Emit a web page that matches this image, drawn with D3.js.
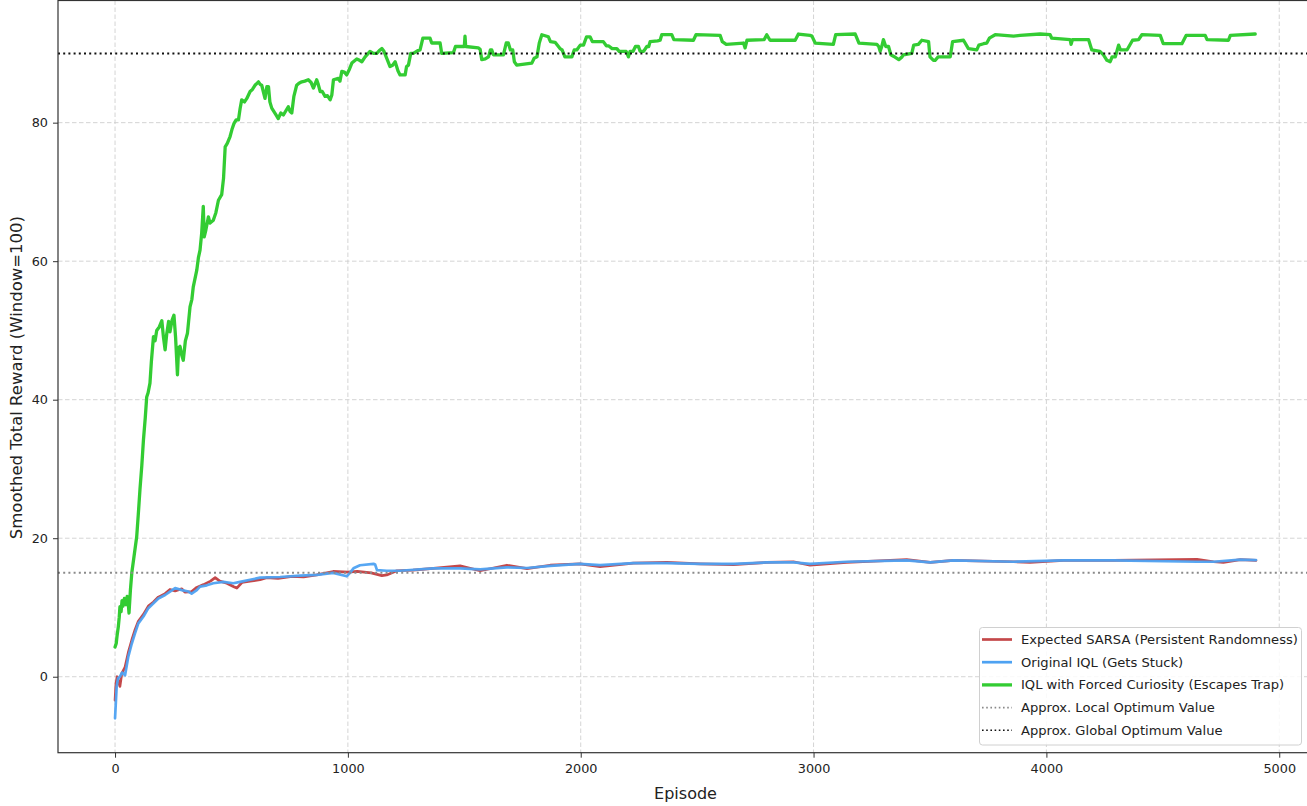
<!DOCTYPE html>
<html>
<head>
<meta charset="utf-8">
<script src="https://cdn.jsdelivr.net/npm/d3@7"></script>
<style>
  html, body { margin: 0; padding: 0; background: #fff; }
  svg { display: block; font-family: "DejaVu Sans", sans-serif; }
</style>
</head>
<body>
<svg id="chart" width="1307" height="806"></svg>
<script>
// Smoothed reward curves, [episode, reward]
const sarsaSeries = [
  [0,-3.4],[4,-1.0],[9,0.0],[13,-0.5],[21,-1.4],[29,0.5],[43,1.4],[57,3.5],[72,5.3],[86,6.8],
  [100,8.0],[122,9.0],[143,10.2],[165,10.8],[186,11.5],[215,12.0],[236,12.6],[258,12.4],[287,12.7],
  [300,12.2],[329,12.3],[351,12.9],[380,13.3],[410,13.8],[430,14.3],[450,13.8],[480,13.5],[510,13.0],
  [523,12.8],[545,13.6],[580,13.8],[623,14.0],[651,14.3],[700,14.2],[760,14.5],[810,14.4],[866,14.7],
  [937,15.2],[1000,15.1],[1040,15.2],[1100,15.0],[1146,14.6],[1167,14.7],[1210,15.3],[1280,15.4],
  [1367,15.65],[1482,16.0],[1568,15.3],[1683,16.1],[1769,15.6],[1869,16.1],[1997,16.3],[2083,15.9],
  [2226,16.4],[2370,16.5],[2513,16.3],[2656,16.2],[2799,16.5],[2914,16.6],[2985,16.1],[3142,16.5],
  [3400,16.9],[3501,16.5],[3601,16.8],[3859,16.6],[3930,16.5],[4073,16.8],[4288,16.8],[4647,16.95],
  [4718,16.6],[4760,16.5],[4833,16.9],[4900,16.8]
];

const iqlSeries = [
  [0,-6.0],[7,-1.4],[13,-0.2],[21,0.0],[30,0.6],[43,0.2],[57,2.9],[72,4.8],[86,6.3],[100,7.7],
  [122,8.7],[143,9.9],[165,10.6],[186,11.3],[215,11.8],[236,12.3],[258,12.8],[287,12.5],[315,12.3],
  [329,12.0],[351,12.5],[365,13.0],[394,13.2],[422,13.5],[465,13.7],[508,13.5],[537,13.7],[580,14.0],
  [623,14.3],[709,14.4],[795,14.6],[866,14.7],[937,15.0],[995,14.5],[1009,15.0],[1024,15.65],
  [1052,16.1],[1110,16.3],[1117,16.2],[1125,15.4],[1167,15.3],[1224,15.3],[1367,15.65],[1482,15.65],
  [1568,15.5],[1683,15.8],[1769,15.7],[1869,16.0],[1997,16.3],[2083,16.1],[2226,16.4],[2370,16.4],
  [2513,16.3],[2656,16.3],[2799,16.5],[2914,16.5],[2985,16.3],[3142,16.6],[3400,16.8],[3501,16.5],
  [3601,16.8],[3859,16.6],[4073,16.8],[4288,16.8],[4647,16.6],[4718,16.6],[4833,16.9],[4900,16.85]
];

const curiositySeries = [
  [0,4.3],[5,4.8],[9,6.0],[14,7.2],[18,8.6],[21,10.1],[26,9.4],[30,11.0],[34,10.2],[40,11.3],[47,10.4],
  [52,11.6],[56,10.9],[60,9.2],[66,12.5],[72,15.0],[80,17.0],[93,20.2],[100,23.5],[107,27.0],[115,30.5],
  [122,34.2],[130,37.5],[136,40.4],[142,41.0],[150,42.4],[156,45.5],[165,49.1],[172,48.5],[179,50.0],
  [190,50.5],[201,51.4],[208,49.0],[215,47.2],[222,49.5],[230,51.3],[236,49.8],[245,51.5],[253,52.2],
  [260,49.0],[268,43.6],[273,47.5],[279,47.7],[286,46.5],[293,45.7],[302,48.5],[311,49.6],[322,53.4],
  [330,54.5],[336,56.3],[351,58.7],[358,60.5],[365,61.6],[372,64.0],[379,67.9],[383,63.5],[390,64.5],
  [401,66.4],[408,65.5],[422,65.9],[433,67.0],[444,68.8],[458,69.6],[466,72.0],[473,76.5],[482,77.0],
  [494,78.0],[502,79.0],[511,79.9],[520,80.4],[530,80.4],[537,82.0],[544,83.3],[556,83.0],[566,83.5],
  [580,84.5],[590,84.8],[601,85.4],[616,85.9],[624,85.5],[630,85.4],[644,83.5],[652,85.2],[659,85.2],
  [665,83.0],[673,82.1],[690,81.2],[701,80.6],[712,81.4],[723,81.1],[735,81.8],[744,82.3],[752,81.6],
  [759,81.4],[768,83.8],[780,85.4],[790,85.7],[802,85.9],[815,86.0],[830,86.2],[842,85.8],[852,85.0],
  [866,86.2],[873,85.5],[881,84.5],[890,84.5],[902,83.8],[912,83.9],[924,83.3],[931,84.0],[938,86.2],
  [959,86.4],[966,86.0],[974,87.4],[985,87.3],[995,86.9],[1005,87.6],[1017,88.6],[1038,89.2],[1050,89.0],
  [1060,88.8],[1074,89.5],[1095,90.3],[1110,90.0],[1124,90.0],[1135,90.4],[1146,90.7],[1155,90.3],
  [1167,89.3],[1181,88.1],[1192,88.3],[1203,88.8],[1215,87.5],[1224,86.9],[1246,86.9],[1252,88.1],
  [1260,88.3],[1270,90.0],[1281,90.0],[1300,90.4],[1310,90.5],[1322,92.2],[1353,92.2],[1360,91.5],
  [1396,91.5],[1403,90.0],[1453,90.1],[1462,91.0],[1500,91.0],[1503,92.5],[1506,91.0],[1560,90.8],
  [1568,90.6],[1575,89.1],[1590,89.2],[1604,89.5],[1612,90.5],[1618,90.5],[1625,89.8],[1668,89.8],
  [1680,91.5],[1689,91.5],[1698,90.5],[1708,90.5],[1715,88.8],[1725,88.3],[1790,88.6],[1800,89.3],
  [1812,89.5],[1822,91.5],[1833,92.7],[1861,92.4],[1870,91.7],[1890,91.6],[1911,90.7],[1920,90.5],
  [1932,89.5],[1962,89.5],[1972,90.5],[1983,90.5],[1998,91.2],[2012,91.2],[2025,92.4],[2040,92.4],
  [2050,91.7],[2097,91.7],[2110,91.1],[2119,91.1],[2135,90.7],[2155,90.7],[2165,90.3],[2195,90.3],
  [2205,89.5],[2212,90.3],[2225,90.3],[2235,91.0],[2248,91.0],[2255,90.3],[2270,90.3],[2284,91.0],
  [2292,91.0],[2298,91.7],[2330,91.8],[2341,91.9],[2348,92.7],[2391,92.7],[2400,92.0],[2484,91.9],
  [2495,92.7],[2599,92.6],[2608,91.7],[2625,91.3],[2699,91.5],[2706,90.8],[2714,91.9],[2788,92.0],
  [2799,92.7],[2813,91.9],[2921,91.9],[2935,92.8],[2985,92.6],[2993,92.5],[3007,91.5],[3085,91.3],
  [3095,92.7],[3179,92.8],[3195,91.5],[3272,91.3],[3280,91.0],[3286,90.3],[3293,91.0],[3300,92.0],
  [3310,91.0],[3322,91.0],[3332,89.8],[3343,89.6],[3366,89.1],[3380,89.5],[3386,89.8],[3422,90.0],
  [3430,91.2],[3450,91.3],[3465,91.9],[3494,91.7],[3500,89.5],[3515,89.0],[3522,89.0],[3535,89.5],
  [3587,89.5],[3597,91.7],[3644,91.9],[3665,90.7],[3701,90.5],[3710,91.2],[3730,91.4],[3744,91.5],
  [3755,92.2],[3780,92.7],[3859,92.5],[3887,92.6],[3973,92.8],[4016,92.7],[4023,92.2],[4102,92.0],
  [4106,91.3],[4112,92.0],[4181,92.0],[4195,90.5],[4230,90.3],[4245,89.8],[4260,89.0],[4274,88.8],
  [4282,89.5],[4296,89.5],[4310,91.2],[4318,90.5],[4346,90.5],[4370,91.9],[4396,92.0],[4410,92.7],
  [4489,92.6],[4502,91.4],[4582,91.4],[4600,92.6],[4682,92.6],[4690,92.0],[4782,91.9],[4790,92.6],
  [4897,92.8]
];

const localOptimum = 15;
const globalOptimum = 90;

const xTicks = [0, 1000, 2000, 3000, 4000, 5000];
const yTicks = [0, 20, 40, 60, 80];

const legendLabels = [
  "Expected SARSA (Persistent Randomness)",
  "Original IQL (Gets Stuck)",
  "IQL with Forced Curiosity (Escapes Trap)",
  "Approx. Local Optimum Value",
  "Approx. Global Optimum Value"
];

// Layout
const plot = { left: 58, right: 1313, top: 0.5, bottom: 752.7 };
const svg = d3.select("#chart");

const x = d3.scaleLinear().domain([-245, 5145]).range([plot.left, plot.right]);
const y = d3.scaleLinear().domain([-10.97, 97.64]).range([plot.bottom, plot.top]);

// Grid
const grid = svg.append("g").attr("stroke", "#cfcfcf").attr("stroke-width", 0.9)
  .attr("stroke-dasharray", "4.5,2.5");
grid.selectAll(".gx").data(xTicks).join("line")
  .attr("x1", d => x(d)).attr("x2", d => x(d))
  .attr("y1", plot.top).attr("y2", plot.bottom);
grid.selectAll(".gy").data(yTicks).join("line")
  .attr("x1", plot.left).attr("x2", plot.right)
  .attr("y1", d => y(d)).attr("y2", d => y(d));

// Clip to the axes area
svg.append("clipPath").attr("id", "plotClip").append("rect")
  .attr("x", plot.left).attr("y", plot.top)
  .attr("width", plot.right - plot.left).attr("height", plot.bottom - plot.top);

const lines = svg.append("g").attr("clip-path", "url(#plotClip)");
const line = d3.line().x(d => x(d[0])).y(d => y(d[1])).curve(d3.curveLinear);

const colors = {
  sarsa: "#c4484a",
  iql: "#4ea2f2",
  curiosity: "#33cc33",
  local: "#8a8a8a",
  global: "#111111"
};

lines.append("path").datum(sarsaSeries).attr("d", line)
  .attr("fill", "none").attr("stroke", colors.sarsa).attr("stroke-width", 2.7)
  .attr("stroke-linejoin", "round").attr("stroke-linecap", "round");
lines.append("path").datum(iqlSeries).attr("d", line)
  .attr("fill", "none").attr("stroke", colors.iql).attr("stroke-width", 2.7)
  .attr("stroke-opacity", 0.95)
  .attr("stroke-linejoin", "round").attr("stroke-linecap", "round");
lines.append("path").datum(curiositySeries).attr("d", line)
  .attr("fill", "none").attr("stroke", colors.curiosity).attr("stroke-width", 3.3)
  .attr("stroke-linejoin", "round").attr("stroke-linecap", "round");

// Reference levels
lines.append("line")
  .attr("x1", plot.left).attr("x2", plot.right)
  .attr("y1", y(localOptimum)).attr("y2", y(localOptimum))
  .attr("stroke", colors.local).attr("stroke-width", 2).attr("stroke-dasharray", "2,3.2");
lines.append("line")
  .attr("x1", plot.left).attr("x2", plot.right)
  .attr("y1", y(globalOptimum)).attr("y2", y(globalOptimum))
  .attr("stroke", colors.global).attr("stroke-width", 2).attr("stroke-dasharray", "2,3.2");

// Axes
const xAxis = svg.append("g").attr("transform", `translate(0,${plot.bottom})`)
  .call(d3.axisBottom(x).tickValues(xTicks).tickSize(5).tickPadding(6).tickFormat(d3.format("d")));
const yAxis = svg.append("g").attr("transform", `translate(${plot.left},0)`)
  .call(d3.axisLeft(y).tickValues(yTicks).tickSize(5).tickPadding(5).tickFormat(d3.format("d")));
[xAxis, yAxis].forEach(a => {
  a.select(".domain").remove();
  a.selectAll(".tick line").attr("stroke", "#333").attr("stroke-width", 1);
  a.selectAll(".tick text").attr("fill", "#222").style("font-size", "12.8px")
    .style("font-family", "'DejaVu Sans', sans-serif");
});

// Spines
svg.append("rect")
  .attr("x", plot.left).attr("y", plot.top)
  .attr("width", plot.right - plot.left).attr("height", plot.bottom - plot.top)
  .attr("fill", "none").attr("stroke", "#333").attr("stroke-width", 1.2);

// Axis titles
svg.append("text")
  .attr("x", (plot.left + plot.right) / 2).attr("y", 799)
  .attr("text-anchor", "middle").attr("fill", "#222")
  .style("font-size", "16px").text("Episode");
svg.append("text")
  .attr("transform", `translate(22,${(plot.top + plot.bottom) / 2 + 1}) rotate(-90)`)
  .attr("text-anchor", "middle").attr("fill", "#222")
  .style("font-size", "16.5px").text("Smoothed Total Reward (Window=100)");

// Legend
const legend = svg.append("g");
legend.append("rect")
  .attr("x", 979.5).attr("y", 627.5).attr("width", 322).attr("height", 117.5)
  .attr("rx", 3).attr("fill", "#fff").attr("fill-opacity", 0.85)
  .attr("stroke", "#d0d0d0").attr("stroke-width", 1);

const legendStyles = [
  { color: colors.sarsa, width: 2.7, dash: null },
  { color: colors.iql, width: 2.7, dash: null },
  { color: colors.curiosity, width: 3.3, dash: null },
  { color: colors.local, width: 1.6, dash: "1.6,2.6" },
  { color: colors.global, width: 1.6, dash: "1.6,2.6" }
];
const rowY = i => 639.5 + i * 22.7;
const rows = legend.selectAll(".item").data(legendLabels).join("g");
rows.append("line")
  .attr("x1", 982).attr("x2", 1012)
  .attr("y1", (d, i) => rowY(i)).attr("y2", (d, i) => rowY(i))
  .attr("stroke", (d, i) => legendStyles[i].color)
  .attr("stroke-width", (d, i) => legendStyles[i].width)
  .attr("stroke-dasharray", (d, i) => legendStyles[i].dash);
rows.append("text")
  .attr("x", 1021).attr("y", (d, i) => rowY(i))
  .attr("dy", "0.35em").attr("fill", "#222")
  .style("font-size", "13.1px").text(d => d);
</script>
</body>
</html>
